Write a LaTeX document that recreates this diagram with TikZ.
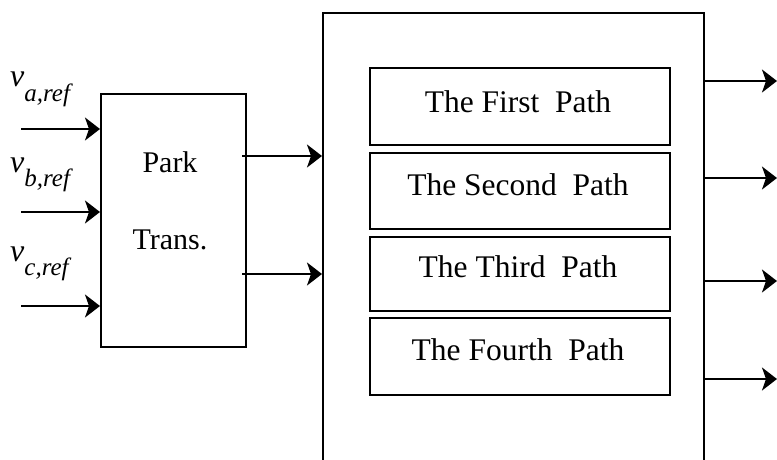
\documentclass[tikz,border=0pt]{standalone}
\usepackage{fontspec}
\setmainfont{Liberation Serif}
\usetikzlibrary{arrows.meta}
\begin{document}
\begin{tikzpicture}[x=1pt,y=-1pt,
  line/.style={line width=2pt},
  arr/.style={line width=2pt,-{Stealth[length=15pt,width=23pt,inset=4pt]}},
  blk/.style={draw,line width=2pt,inner sep=0pt,anchor=north west},
  pathbox/.style={draw,line width=2pt,inner sep=0pt,anchor=north west,minimum width=300pt},
  txt/.style={font=\fontsize{31.5}{31.5}\selectfont,inner sep=0pt,anchor=base},
  lbl/.style={inner sep=0pt,anchor=base west,font=\fontsize{32}{32}\selectfont\itshape}
]
\useasboundingbox (0,0) rectangle (777,459);
\clip (0,0) rectangle (777,459);
% Park block
\node[blk,minimum width=145pt,minimum height=253pt] (park) at (100,93) {};
\node[txt,font=\fontsize{30}{30}\selectfont] (t1) at (170,172) {Park};
\node[txt,font=\fontsize{30}{30}\selectfont] (t2) at (170,249) {Trans.};
% big block (bottom cut off)
\node[blk,minimum width=381pt,minimum height=470pt] (big) at (322,12) {};
% path boxes
\node[pathbox,minimum height=77pt] (p1) at (369,67) {};
\node[pathbox,minimum height=76pt] (p2) at (369,152) {};
\node[pathbox,minimum height=74pt] (p3) at (369,236) {};
\node[pathbox,minimum height=77pt] (p4) at (369,317) {};
\node[txt] (p1t) at (518,112) {The First\ \ Path};
\node[txt] (p2t) at (518,195) {The Second\ \ Path};
\node[txt] (p3t) at (518,277) {The Third\ \ Path};
\node[txt] (p4t) at (518,360) {The Fourth\ \ Path};
% labels
\node[lbl] (la) at (10,86) {v\raisebox{-15pt}{\fontsize{25}{25}\selectfont a,ref}};
\node[lbl] (lb) at (10,172) {v\raisebox{-14pt}{\fontsize{25}{25}\selectfont b,ref}};
\node[lbl] (lc) at (10,261) {v\raisebox{-14pt}{\fontsize{25}{25}\selectfont c,ref}};
% input arrows
\coordinate (ina) at (21,129);
\coordinate (inb) at (21,212);
\coordinate (inc) at (21,306);
\draw[arr] (ina) -- (park.west |- ina);
\draw[arr] (inb) -- (park.west |- inb);
\draw[arr] (inc) -- (park.west |- inc);
% park to big
\coordinate (m1) at (242,156);
\coordinate (m2) at (242,274);
\draw[arr] (m1) -- (big.west |- m1);
\draw[arr] (m2) -- (big.west |- m2);
% outputs
\coordinate (o1) at (777,81);
\coordinate (o2) at (777,178);
\coordinate (o3) at (777,281);
\coordinate (o4) at (777,379);
\draw[arr] (big.east |- o1) -- (o1);
\draw[arr] (big.east |- o2) -- (o2);
\draw[arr] (big.east |- o3) -- (o3);
\draw[arr] (big.east |- o4) -- (o4);
\end{tikzpicture}
\end{document}
